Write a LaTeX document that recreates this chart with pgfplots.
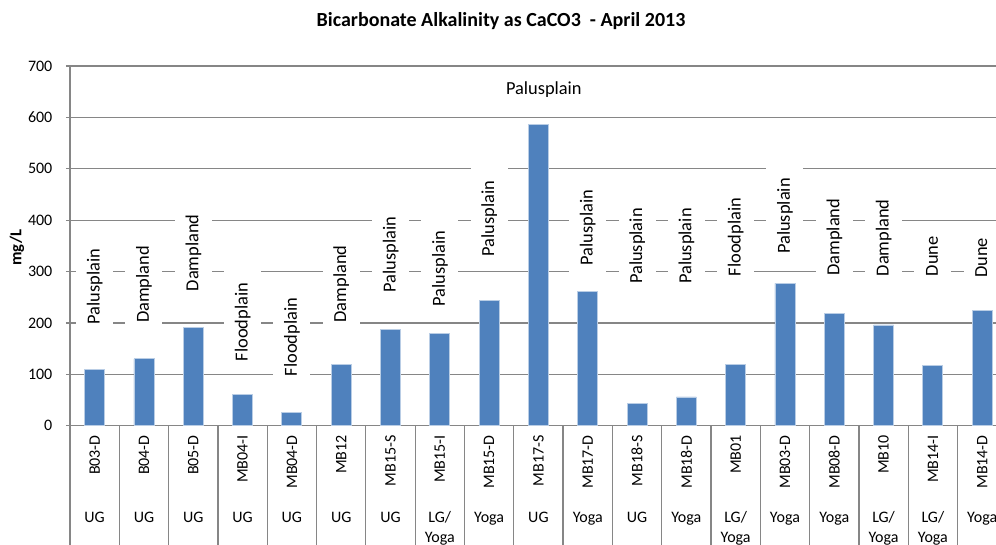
\documentclass[border=0pt]{standalone}
\usepackage{fontspec}
\setmainfont{Carlito}
\usepackage{pgfplots}
\pgfplotsset{compat=1.18}
\definecolor{barblue}{HTML}{4F81BD}
\definecolor{baredge}{HTML}{B9CDE5}
\definecolor{gridgray}{HTML}{868686}
\tikzset{
  lab/.style={rotate=90, anchor=west, fill=white, inner xsep=6.5pt, inner ysep=4.75pt,
    text height=7pt, text depth=2pt, font=\fontsize{9.2}{11}\selectfont},
  aq/.style={anchor=base, inner sep=0pt, font=\fontsize{8}{9.6}\selectfont},
}
\begin{document}
\begin{tikzpicture}
\begin{axis}[
  name=ax,
  scale only axis,
  width=463pt, height=179.85pt,
  xmin=-0.5, xmax=18.28,
  ymin=0, ymax=700,
  ytick={0,100,...,700},
  xtick={0,...,18},
  xticklabels={B03-D,B04-D,B05-D,MB04-I,MB04-D,MB12,MB15-S,MB15-I,MB15-D,MB17-S,MB17-D,MB18-S,MB18-D,MB01,MB03-D,MB08-D,MB10,MB14-I,MB14-D},
  minor xtick={-0.5,0.5,...,17.5},
  axis x line*=bottom, axis y line*=left,
  axis line style={-, draw=gridgray, line width=0.6pt},
  tick align=outside,
  major tick length=2pt,
  minor tick length=59.65pt,
  major x tick style={draw=none},
  minor x tick style={draw=gridgray, line width=0.6pt},
  ytick style={draw=gridgray, line width=0.6pt},
  ymajorgrids,
  grid style={draw=gridgray, line width=0.6pt},
  ticklabel style={font=\fontsize{8}{9.6}\selectfont},
  /pgf/number format/assume math mode=true,
  xticklabel style={yshift=-2.6pt, rotate=90, anchor=east, inner sep=0pt},
  yticklabel style={xshift=-3.3pt},
  clip=false,
]
\addplot[ybar, bar width=10pt, fill=barblue, draw=baredge, line width=0.4pt] coordinates {
  (0,110) (1,130) (2,192) (3,61) (4,25) (5,120) (6,187) (7,180) (8,243) (9,587)
  (10,261) (11,44) (12,56) (13,120) (14,277) (15,218) (16,196) (17,118) (18,224)};

% landform labels
\node[lab] at (axis cs:0,170.7) {Palusplain\hspace{5pt}};
\node[lab] at (axis cs:1,174.0) {Dampland\hspace{5pt}};
\node[lab] at (axis cs:2,235.5) {Dampland\hspace{5pt}};
\node[lab] at (axis cs:3,99.2) {Floodplain\hspace{5pt}};
\node[lab] at (axis cs:4,70.1) {Floodplain\hspace{5pt}};
\node[lab] at (axis cs:5,175.1) {Dampland\hspace{5pt}};
\node[lab] at (axis cs:6,233.5) {Palusplain\hspace{5pt}};
\node[lab] at (axis cs:7,206.3) {Palusplain\hspace{5pt}};
\node[lab] at (axis cs:8,303.6) {Palusplain\hspace{5pt}};
\node[fill=white, inner sep=2pt, font=\fontsize{9.2}{11}\selectfont] at (axis cs:9.11,653.3) {Palusplain};
\node[lab] at (axis cs:10,285.5) {Palusplain\hspace{5pt}};
\node[lab] at (axis cs:11,249.9) {Palusplain\hspace{5pt}};
\node[lab] at (axis cs:12,249.9) {Palusplain\hspace{5pt}};
\node[lab] at (axis cs:13,264.7) {Floodplain\hspace{5pt}};
\node[lab] at (axis cs:14,308.3) {Palusplain\hspace{5pt}};
\node[lab] at (axis cs:15,266.0) {Dampland\hspace{5pt}};
\node[lab] at (axis cs:16,264.7) {Dampland\hspace{5pt}};
\node[lab] at (axis cs:17,264.7) {Dune\hspace{5pt}};
\node[lab] at (axis cs:18,261.6) {Dune\hspace{5pt}};

% aquifer row
\node[aq, yshift=-48.3pt] at (axis cs:0,0) {UG};
\node[aq, yshift=-48.3pt] at (axis cs:1,0) {UG};
\node[aq, yshift=-48.3pt] at (axis cs:2,0) {UG};
\node[aq, yshift=-48.3pt] at (axis cs:3,0) {UG};
\node[aq, yshift=-48.3pt] at (axis cs:4,0) {UG};
\node[aq, yshift=-48.3pt] at (axis cs:5,0) {UG};
\node[aq, yshift=-48.3pt] at (axis cs:6,0) {UG};
\node[aq, yshift=-48.3pt] at (axis cs:7,0) {LG/};
\node[aq, yshift=-58.3pt] at (axis cs:7,0) {Yoga};
\node[aq, yshift=-48.3pt] at (axis cs:8,0) {Yoga};
\node[aq, yshift=-48.3pt] at (axis cs:9,0) {UG};
\node[aq, yshift=-48.3pt] at (axis cs:10,0) {Yoga};
\node[aq, yshift=-48.3pt] at (axis cs:11,0) {UG};
\node[aq, yshift=-48.3pt] at (axis cs:12,0) {Yoga};
\node[aq, yshift=-48.3pt] at (axis cs:13,0) {LG/};
\node[aq, yshift=-58.3pt] at (axis cs:13,0) {Yoga};
\node[aq, yshift=-48.3pt] at (axis cs:14,0) {Yoga};
\node[aq, yshift=-48.3pt] at (axis cs:15,0) {Yoga};
\node[aq, yshift=-48.3pt] at (axis cs:16,0) {LG/};
\node[aq, yshift=-58.3pt] at (axis cs:16,0) {Yoga};
\node[aq, yshift=-48.3pt] at (axis cs:17,0) {LG/};
\node[aq, yshift=-58.3pt] at (axis cs:17,0) {Yoga};
\node[aq, yshift=-48.3pt] at (axis cs:18,0) {Yoga};
\end{axis}

\node[font=\bfseries\fontsize{10}{12}\selectfont] at ([shift={(215.5pt,202.35pt)}]ax.south west)
  {Bicarbonate Alkalinity as CaCO3\ \ - April 2013};
\node[rotate=90, font=\bfseries\fontsize{8.3}{10}\selectfont] at ([shift={(-26.5pt,89.1pt)}]ax.south west) {mg/L};

\pgfresetboundingbox
\path ([shift={(-35pt,-59.65pt)}]ax.south west) rectangle ([shift={(0pt,212.85pt)}]ax.south east);
\end{tikzpicture}
\end{document}
